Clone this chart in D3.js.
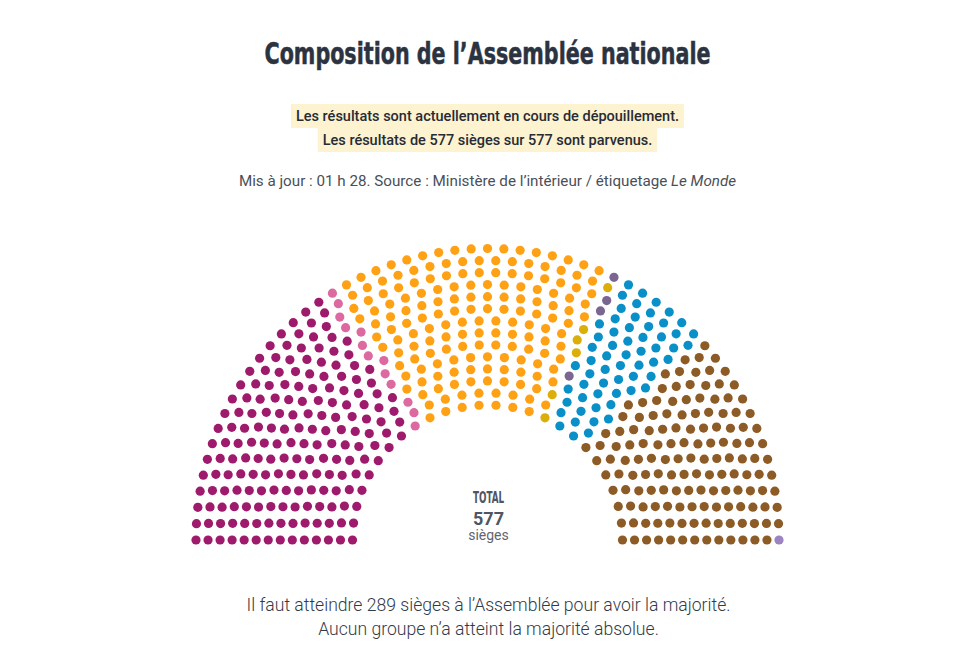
<!DOCTYPE html>
<html lang="fr">
<head>
<meta charset="utf-8">
<script src="https://cdn.jsdelivr.net/npm/d3@7"></script>
<style>
  html, body { margin: 0; padding: 0; background: #ffffff; }
  svg { display: block; }
</style>
</head>
<body>
<div id="chart"></div>
<script>
// ---- Data ----
const parties = [
  "Nouveau Front populaire",
  "Divers gauche",
  "Ensemble",
  "Divers centre",
  "Régionalistes",
  "LR et divers droite",
  "RN et alliés",
  "Extrême droite"
];
const seatCounts = [182, 13, 168, 6, 4, 60, 143, 1];
const partyColors = ["#9e1a6c", "#dc6aa0", "#ffa114", "#dcae0a", "#7a6690", "#0a90c8", "#8c5b26", "#9b84c0"];
const totalSeats = 577;
const majority = 289;
const rowCount = 14;

// ---- Layout ----
const W = 971, H = 649;
const cx = 487.5, cy = 540;
const rInner = 135, rOuter = 291.5;
const dotR = 4.6;

const svg = d3.select("#chart").append("svg")
  .attr("width", W).attr("height", H)
  .attr("viewBox", `0 0 ${W} ${H}`);

const color = d3.scaleOrdinal().domain(parties).range(partyColors);
const rowRadius = d3.scaleLinear().domain([0, rowCount - 1]).range([rInner, rOuter]);

// seats per row proportional to radius, remainder to outermost row
const radii = d3.range(rowCount).map(i => rowRadius(i));
const sumR = d3.sum(radii);
const perRow = radii.map(r => Math.round(totalSeats * r / sumR));
perRow[rowCount - 1] += totalSeats - d3.sum(perRow);

// build seats, sort by angle (inner rows first on ties)
let seats = [];
perRow.forEach((n, row) => {
  const ang = d3.scaleLinear().domain([0, n - 1]).range([Math.PI, 0]);
  for (let j = 0; j < n; j++) {
    seats.push({ row, j, n, a: ang(j), r: radii[row] });
  }
});
seats.sort((p, q) => (q.a - p.a) > 1e-9 ? 1 : (p.a - q.a) > 1e-9 ? -1 : p.row - q.row);

// assign parties in order
const cum = d3.cumsum(seatCounts);
seats.forEach((s, i) => {
  s.party = parties[d3.bisectRight(cum, i)];
});

svg.append("g").attr("class", "seats")
  .selectAll("circle").data(seats).join("circle")
  .attr("cx", d => cx + d.r * Math.cos(d.a))
  .attr("cy", d => cy - d.r * Math.sin(d.a))
  .attr("r", dotR)
  .attr("fill", d => color(d.party));

// ---- Texts ----
const sans = "Roboto, 'Noto Sans', sans-serif";
const narrow = "'Liberation Sans Narrow', 'DejaVu Sans Condensed', sans-serif";

svg.append("text")
  .attr("x", cx).attr("y", 64)
  .attr("text-anchor", "middle")
  .attr("font-family", narrow)
  .attr("font-weight", 700)
  .attr("font-size", 30)
  .attr("fill", "#2b3341")
  .attr("stroke", "#2b3341")
  .attr("stroke-width", 0.5)
  .attr("textLength", 446)
  .attr("lengthAdjust", "spacingAndGlyphs")
  .text("Composition de l\u2019Assemblée nationale");

const hlLines = [
  { t: "Les résultats sont actuellement en cours de dépouillement.", y: 121 },
  { t: `Les résultats de ${totalSeats} sièges sur ${totalSeats} sont parvenus.`, y: 145 }
];
const hl = svg.append("g");
hlLines.forEach(l => {
  const g = hl.append("g");
  const rect = g.append("rect").attr("fill", "#fdf3d0");
  const txt = g.append("text")
    .attr("x", cx).attr("y", l.y)
    .attr("text-anchor", "middle")
    .attr("font-family", sans)
    .attr("font-size", 14.5)
    .attr("font-weight", 500)
    .attr("fill", "#262b36")
    .text(l.t);
  const w = txt.node().getComputedTextLength();
  rect.attr("x", cx - w / 2 - 5).attr("y", l.y - 17).attr("width", w + 10).attr("height", 24);
});

const src = svg.append("text")
  .attr("x", cx).attr("y", 186)
  .attr("text-anchor", "middle")
  .attr("font-family", sans)
  .attr("font-size", 15.2)
  .attr("fill", "#4a4f58");
src.append("tspan").text("Mis à jour : 01 h 28. Source : Ministère de l\u2019intérieur / étiquetage ");
src.append("tspan").attr("font-style", "italic").text("Le Monde");

svg.append("text")
  .attr("x", cx + 1).attr("y", 503)
  .attr("text-anchor", "middle")
  .attr("font-family", narrow)
  .attr("font-weight", 700)
  .attr("font-size", 15)
  .attr("fill", "#4e5563")
  .attr("textLength", 31)
  .attr("lengthAdjust", "spacingAndGlyphs")
  .text("TOTAL");
svg.append("text")
  .attr("x", cx + 1).attr("y", 525)
  .attr("text-anchor", "middle")
  .attr("font-family", sans)
  .attr("font-weight", 700)
  .attr("font-size", 18)
  .attr("fill", "#4e5563")
  .text(totalSeats);
svg.append("text")
  .attr("x", cx + 1).attr("y", 540)
  .attr("text-anchor", "middle")
  .attr("font-family", sans)
  .attr("font-size", 14)
  .attr("fill", "#5f6570")
  .text("sièges");

svg.append("text")
  .attr("x", cx + 1).attr("y", 611)
  .attr("text-anchor", "middle")
  .attr("font-family", sans)
  .attr("font-weight", 300)
  .attr("font-size", 17.6)
  .attr("fill", "#333a46")
  .text(`Il faut atteindre ${majority} sièges à l\u2019Assemblée pour avoir la majorité.`);
svg.append("text")
  .attr("x", cx + 1).attr("y", 635)
  .attr("text-anchor", "middle")
  .attr("font-family", sans)
  .attr("font-weight", 300)
  .attr("font-size", 17.6)
  .attr("fill", "#333a46")
  .text("Aucun groupe n\u2019a atteint la majorité absolue.");
</script>
</body>
</html>
